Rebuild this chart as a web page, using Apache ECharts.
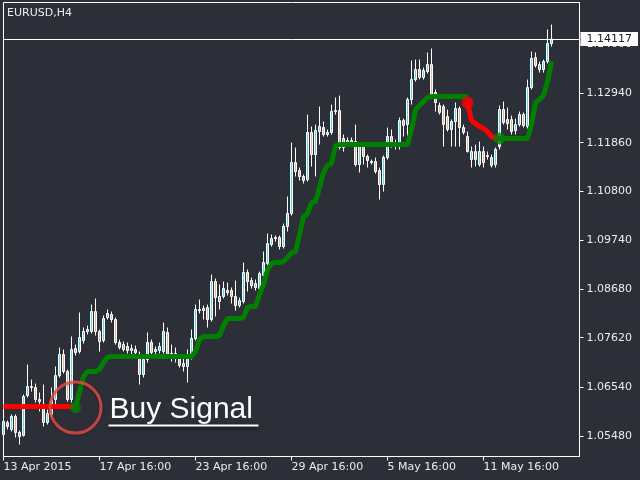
<!DOCTYPE html>
<html>
<head>
<meta charset="utf-8">
<script src="https://cdn.jsdelivr.net/npm/echarts@6/dist/echarts.min.js"></script>
<style>
html,body{margin:0;padding:0;background:#2c2f37;}
#c{width:640px;height:480px;}
</style>
</head>
<body>
<div id="c"></div>
<script>
// ---- data (EURUSD H4), each candle: [open, close, low, high]
const candles = [
[1.05513,1.05795,1.05470,1.05839],[1.05774,1.05687,1.05622,1.05817],[1.05622,1.05905,1.05578,1.05948],[1.05905,1.05557,1.05448,1.05948],
[1.05557,1.05470,1.05295,1.05600],[1.05491,1.06340,1.05470,1.06383],[1.06361,1.06557,1.06318,1.07035],[1.06557,1.06535,1.06448,1.06709],
[1.06535,1.06274,1.06209,1.06622],[1.06230,1.06274,1.06013,1.06427],[1.06100,1.05774,1.05687,1.06600],[1.05774,1.05970,1.05730,1.06057],
[1.05948,1.06252,1.05883,1.06535],[1.06274,1.06796,1.06165,1.06992],[1.06796,1.07253,1.06753,1.07405],[1.07253,1.06883,1.06840,1.07362],
[1.06883,1.06274,1.06230,1.06927],[1.06274,1.07362,1.06209,1.07645],[1.07383,1.07297,1.07231,1.07470],[1.07318,1.07623,1.07275,1.08167],
[1.07557,1.07753,1.07492,1.07840],[1.07753,1.07797,1.07688,1.07883],[1.07753,1.08188,1.07710,1.08340],[1.08188,1.07753,1.07666,1.08471],
[1.07753,1.07535,1.07318,1.07797],[1.07557,1.08036,1.07514,1.08101],[1.08058,1.08145,1.08014,1.08232],[1.08123,1.08014,1.07949,1.08188],
[1.08014,1.07514,1.07470,1.08058],[1.07514,1.07405,1.07362,1.07579],[1.07362,1.07470,1.07318,1.07535],[1.07427,1.07340,1.07275,1.07514],
[1.07340,1.07383,1.07231,1.07470],[1.07362,1.07297,1.07210,1.07448],[1.07231,1.06818,1.06600,1.07318],[1.06818,1.07144,1.06753,1.07253],
[1.07144,1.07514,1.07079,1.07732],[1.07514,1.07297,1.07231,1.07579],[1.07318,1.07362,1.07253,1.07427],[1.07340,1.07427,1.07275,1.07514],
[1.07318,1.07753,1.07275,1.07949],[1.07732,1.07253,1.07210,1.07840],[1.07253,1.07275,1.07100,1.07470],[1.07275,1.07231,1.07079,1.07405],
[1.07210,1.07013,1.06970,1.07253],[1.07057,1.06992,1.06883,1.07188],[1.06992,1.07188,1.06644,1.07362],[1.07188,1.07601,1.07144,1.07797],
[1.07601,1.08232,1.07557,1.08340],[1.08210,1.08232,1.08145,1.08449],[1.08210,1.08253,1.08014,1.08318],[1.08275,1.08014,1.07840,1.08340],
[1.08014,1.08840,1.07970,1.08993],[1.08840,1.08493,1.08080,1.08906],[1.08405,1.08515,1.08232,1.08775],[1.08515,1.08688,1.08471,1.08840],
[1.08602,1.08645,1.08536,1.08818],[1.08645,1.08515,1.08362,1.08710],[1.08515,1.08318,1.08210,1.08862],[1.08318,1.08427,1.08275,1.08493],
[1.08405,1.09037,1.08362,1.09254],[1.09037,1.08840,1.08623,1.09102],[1.08753,1.08862,1.08688,1.08928],[1.08797,1.08710,1.08645,1.08884],
[1.08688,1.09015,1.08427,1.09058],[1.08971,1.09254,1.08928,1.09493],[1.09232,1.09667,1.09188,1.09885],[1.09645,1.09776,1.09602,1.09863],
[1.09776,1.09798,1.09710,1.09841],[1.09798,1.09602,1.09537,1.09841],[1.09602,1.10037,1.09558,1.10102],[1.10037,1.10320,1.09928,1.10690],
[1.10320,1.11429,1.10276,1.11864],[1.11429,1.11233,1.11125,1.11755],[1.11255,1.11125,1.11037,1.11320],[1.11125,1.11037,1.10972,1.11168],
[1.11059,1.12082,1.11015,1.12473],[1.12082,1.11603,1.11342,1.12212],[1.11603,1.12125,1.11125,1.12255],[1.12103,1.12212,1.11820,1.12647],
[1.12190,1.12038,1.11994,1.12320],[1.12038,1.12082,1.11994,1.12147],[1.12082,1.12538,1.12038,1.12690],[1.12538,1.12560,1.12473,1.12843],
[1.12560,1.11755,1.11712,1.12886],[1.11755,1.11951,1.11668,1.12038],[1.11907,1.11842,1.11777,1.11973],[1.11842,1.11907,1.11777,1.11973],
[1.11885,1.11385,1.11342,1.12255],[1.11385,1.11820,1.11212,1.11864],[1.11820,1.11560,1.11385,1.11864],[1.11560,1.11472,1.11320,1.11603],
[1.11450,1.11429,1.11385,1.11494],[1.11450,1.11233,1.11190,1.11538],[1.11255,1.10950,1.10624,1.11320],[1.10950,1.11538,1.10798,1.11581],
[1.11538,1.11994,1.11494,1.12190],[1.11994,1.11820,1.11755,1.12147],[1.11820,1.11798,1.11712,1.11929],[1.11820,1.12342,1.11712,1.12408],
[1.12342,1.12233,1.11994,1.12386],[1.12255,1.12799,1.11994,1.12843],[1.12799,1.13234,1.12690,1.13647],[1.13234,1.13452,1.13190,1.13669],
[1.13452,1.13278,1.13234,1.13669],[1.13278,1.13430,1.13234,1.13495],[1.13408,1.13560,1.13365,1.13822],[1.13560,1.12908,1.12864,1.13909],
[1.12952,1.12734,1.12538,1.13017],[1.12668,1.12517,1.12473,1.12734],[1.12647,1.12255,1.11777,1.12690],[1.12429,1.12147,1.12103,1.12582],
[1.12147,1.12320,1.11777,1.12364],[1.12320,1.12603,1.11777,1.12734],[1.12603,1.12190,1.11777,1.12647],[1.12190,1.12082,1.12038,1.12255],
[1.11994,1.11668,1.11646,1.12103],[1.11494,1.11668,1.11320,1.11777],[1.11668,1.11494,1.11342,1.11820],[1.11385,1.11668,1.11342,1.11885],
[1.11668,1.11429,1.11320,1.11777],[1.11560,1.11581,1.11494,1.11668],[1.11538,1.11363,1.11320,1.11603],[1.11385,1.11712,1.11320,1.11755],
[1.11777,1.12582,1.11712,1.12668],[1.12582,1.12299,1.12255,1.12755],[1.12277,1.12364,1.12147,1.12625],[1.12364,1.12103,1.12038,1.12451],
[1.12125,1.12255,1.12038,1.12386],[1.12255,1.12473,1.12212,1.12538],[1.12473,1.12233,1.12190,1.12517],[1.12212,1.13060,1.12168,1.13234],
[1.13060,1.13691,1.13017,1.13843],[1.13713,1.13539,1.13495,1.13822],[1.13560,1.13452,1.13386,1.13626],[1.13452,1.13626,1.13386,1.13669],
[1.13626,1.14017,1.13582,1.14322],[1.14017,1.14117,1.13952,1.14430]
];
const slotCount = 145;            // bar slots incl. right-side chart shift
const tickLabels = ['13 Apr 2015','17 Apr 16:00','23 Apr 16:00','29 Apr 16:00','5 May 16:00','11 May 16:00'];
const tickEvery = 24;
const yTicks = [1.05480,1.06540,1.07620,1.08680,1.09740,1.10800,1.11860,1.12940,1.14000];
const yMin = 1.05035, yMax = 1.14910;
const lastPrice = 1.14117;

// trailing stop line segments (start bar + values)
const redLine1Start = 0;
const redLine1 = [1.0612,1.0612,1.0612,1.0612,1.0612,1.0612,1.0612,1.0612,1.0612,1.0612,1.0612,1.0612,1.0612,1.0612,1.0612,1.0612,1.0612,1.0612,1.0612];
const greenLine1Start = 18;
const greenLine1 = [1.06100,1.06448,1.06774,1.06883,1.06883,1.06883,1.06927,1.07079,1.07188,
 1.07210,1.07210,1.07210,1.07210,1.07210,1.07210,1.07210,1.07210,1.07210,1.07210,1.07210,1.07210,1.07210,1.07210,1.07210,1.07210,1.07210,1.07210,1.07210,1.07210,1.07210,
 1.07318,1.07579,1.07645,1.07645,1.07645,1.07645,1.07666,1.07883,1.08036,1.08036,1.08036,1.08036,1.08058,1.08275,1.08297,1.08297,
 1.08558,1.08775,1.09102,1.09232,1.09254,1.09254,1.09275,1.09362,1.09471,1.09493,1.09863,1.10254,1.10320,1.10559,1.10581,1.10885,
 1.11212,1.11363,1.11407,1.11798,
 1.11820,1.11820,1.11820,1.11820,1.11820,1.11820,1.11820,1.11820,1.11820,1.11820,1.11820,1.11820,1.11820,1.11820,1.11820,1.11820,1.11820,1.11820,
 1.12147,1.12582,1.12668,1.12755,1.12843,
 1.12864,1.12864,1.12864,1.12864,1.12864,1.12864,1.12864,1.12864,1.12864,1.12864];
const redLine2Start = 116;
const redLine2 = [1.12734,1.12342,1.12277,1.12212,1.12168,1.12103,1.11994,1.11951,1.11951];
const greenLine2Start = 124;
const greenLine2 = [1.11951,1.11951,1.11951,1.11951,1.11951,1.11951,1.11951,1.11951,1.12255,1.12734,1.12799,1.12886,1.13191,1.13626];
const buySignal = [18, 1.06100];
const sellSignal = [116, 1.12734];
const buySignal2 = [124, 1.11951];
const annotationText = 'Buy Signal';
const titleText = 'EURUSD,H4';

// ---- build
const cats = [];
for (let i = 0; i < slotCount; i++) cats.push(String(i));
function seg(start, arr) { return arr.map((v, i) => [start + i, v]); }

const FONT = 'DejaVu Sans';
const TXT = '#ececec';
const chart = echarts.init(document.getElementById('c'), null, {renderer: 'canvas'});
const option = {
  animation: false,
  backgroundColor: '#2c2f37',
  title: {text: titleText, left: 7, top: 8, padding: 0,
    textStyle: {color: TXT, fontFamily: FONT, fontSize: 11, fontWeight: 'normal'}},
  grid: {left: 3.5, right: 60.5, top: 2.5, bottom: 23.5, show: true, borderColor: '#ffffff', borderWidth: 1, backgroundColor: 'transparent'},
  xAxis: {
    type: 'category', data: cats, boundaryGap: false,
    axisLine: {show: true, lineStyle: {color: '#fff', width: 1}},
    axisTick: {show: true, length: 4, lineStyle: {color: '#fff'}, interval: (i) => i % tickEvery === 0 && i / tickEvery < tickLabels.length},
    axisLabel: {show: true, color: TXT, fontFamily: FONT, fontSize: 11, align: 'left', margin: 5,
      interval: (i) => i % tickEvery === 0 && i / tickEvery < tickLabels.length,
      formatter: (v, i) => tickLabels[Math.round(Number(v) / tickEvery)] || ''},
    splitLine: {show: false}
  },
  yAxis: {
    type: 'value', position: 'right', min: yMin, max: yMax, scale: true,
    axisLine: {show: true, lineStyle: {color: '#fff', width: 1}},
    axisTick: {show: true, length: 4, inside: false, lineStyle: {color: '#fff'}, customValues: yTicks},
    axisLabel: {show: true, color: TXT, fontFamily: FONT, fontSize: 11, margin: 7, customValues: yTicks,
      formatter: (v) => Number(v).toFixed(5)},
    splitLine: {show: false}
  },
  series: [
    {
      type: 'candlestick', name: 'EURUSD', data: candles, barWidth: 3,
      itemStyle: {color: '#5fd8e2', color0: '#d3bf9a', borderColor: '#ffffff', borderColor0: '#ffffff', borderWidth: 1},
      markLine: {
        silent: true, symbol: ['none', 'none'], precision: 5,
        lineStyle: {color: '#ffffff', width: 1, type: 'solid'},
        label: {show: true, position: 'end', distance: 1, formatter: () => lastPrice.toFixed(5),
          backgroundColor: '#ffffff', color: '#1a1d24', fontFamily: FONT, fontSize: 11, lineHeight: 12, padding: [1, 6, 1, 6]},
        data: [{yAxis: lastPrice}]
      },
      z: 2
    },
    {type: 'line', data: seg(redLine1Start, redLine1), symbol: 'none', lineStyle: {color: '#ff0000', width: 5}, z: 3},
    {type: 'line', data: seg(greenLine1Start, greenLine1), symbol: 'none', lineStyle: {color: '#008000', width: 5}, z: 3},
    {type: 'line', data: seg(redLine2Start, redLine2), symbol: 'none', lineStyle: {color: '#ff0000', width: 5}, z: 3},
    {type: 'line', data: seg(greenLine2Start, greenLine2), symbol: 'none', lineStyle: {color: '#008000', width: 5}, z: 3},
    {type: 'scatter', data: [buySignal], symbolSize: 11, itemStyle: {color: '#008000'}, z: 4},
    {type: 'scatter', data: [buySignal2], symbolSize: 12, itemStyle: {color: '#008000'}, z: 4},
    {type: 'scatter', data: [sellSignal], symbolSize: 12, itemStyle: {color: '#ff0000'}, z: 4},
    {type: 'scatter', data: [buySignal], symbolSize: 51, z: 5,
      itemStyle: {color: 'rgba(0,0,0,0)', borderColor: '#f04a45', borderWidth: 3,
        shadowBlur: 3, shadowColor: 'rgba(0,0,0,0.25)', shadowOffsetY: 1}}
  ]
};
chart.setOption(option);

const p = chart.convertToPixel({gridIndex: 0}, buySignal);
chart.setOption({
  graphic: [
    {type: 'text', x: p[0] + 34, y: p[1] + 2, z: 10,
      style: {text: annotationText, fill: '#ffffff', font: '30px "Liberation Sans"', verticalAlign: 'middle',
        shadowBlur: 5, shadowColor: 'rgba(0,0,0,0.75)', shadowOffsetX: 1, shadowOffsetY: 2}},
    {type: 'rect', shape: {x: p[0] + 33, y: p[1] + 17, width: 150, height: 2}, z: 10,
      style: {fill: '#ffffff', shadowBlur: 4, shadowColor: 'rgba(0,0,0,0.7)', shadowOffsetY: 2}}
  ]
});
</script>
</body>
</html>
